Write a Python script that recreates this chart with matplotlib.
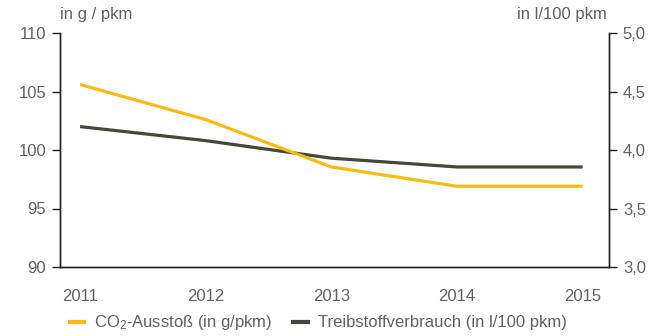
import matplotlib
matplotlib.use("Agg")
import matplotlib.pyplot as plt
from matplotlib.ticker import FuncFormatter
from matplotlib.lines import Line2D

plt.rcParams['font.family'] = ['Liberation Sans', 'DejaVu Sans']
plt.rcParams['mathtext.fontset'] = 'custom'
plt.rcParams['mathtext.rm'] = 'Liberation Sans'
plt.rcParams['mathtext.it'] = 'Liberation Sans'

years = [2011, 2012, 2013, 2014, 2015]
co2 = [105.6, 102.6, 98.55, 96.9, 96.9]          # g/pkm
fuel = [4.20, 4.08, 3.93, 3.855, 3.855]          # l/100 pkm

YELLOW = '#FDB913'
DARK = '#43483A'
TEXT = '#626262'

W, H = 654, 336
fig = plt.figure(figsize=(W / 100, H / 100), dpi=100)
left, right, top, bottom = 60 / W, 609 / W, 1 - 33 / H, 1 - 267 / H
ax = fig.add_axes([left, bottom, right - left, top - bottom])
ax2 = ax.twinx()

ax2.plot(years, fuel, color=DARK, lw=2.3, solid_capstyle='butt')
ax.plot(years, co2, color=YELLOW, lw=2.3, solid_capstyle='butt')
ax.set_zorder(ax2.get_zorder() + 1)
ax.patch.set_visible(False)

ax.set_xlim(2010.84, 2015.21)
ax.set_ylim(90, 110)
ax2.set_ylim(3.0, 5.0)
ax.set_yticks([90, 95, 100, 105, 110])
ax2.set_yticks([3.0, 3.5, 4.0, 4.5, 5.0])
ax2.yaxis.set_major_formatter(FuncFormatter(lambda v, p: f"{v:.1f}".replace('.', ',')))
ax.set_xticks(years)

for a in (ax, ax2):
    a.spines['top'].set_visible(False)
    for s in a.spines.values():
        s.set_linewidth(1.0)
        s.set_color('#222222')
    a.tick_params(axis='y', length=6, width=1.0, color='#222222',
                  labelsize=12, labelcolor=TEXT, pad=4)
ax.tick_params(axis='x', length=0, labelsize=12, labelcolor=TEXT, pad=16)

fig.text(60 / W, 1 - 14 / H, 'in g / pkm', fontsize=12, color=TEXT,
         ha='left', va='center')
fig.text(607 / W, 1 - 14 / H, 'in l/100 pkm', fontsize=12, color=TEXT,
         ha='right', va='center')

handles = [Line2D([], [], color=YELLOW, lw=3),
           Line2D([], [], color=DARK, lw=3)]
labels = ['CO$_2$-Ausstoß (in g/pkm)', 'Treibstoffverbrauch (in l/100 pkm)']
leg = fig.legend(handles, labels, loc='center', ncol=2, frameon=False,
                 bbox_to_anchor=(318 / W, 1 - 323 / H), fontsize=12,
                 handlelength=0.85, handletextpad=0.6, columnspacing=1.3,
                 borderpad=0, borderaxespad=0)
for t in leg.get_texts():
    t.set_color(TEXT)

fig.savefig('out.png', dpi=100)
